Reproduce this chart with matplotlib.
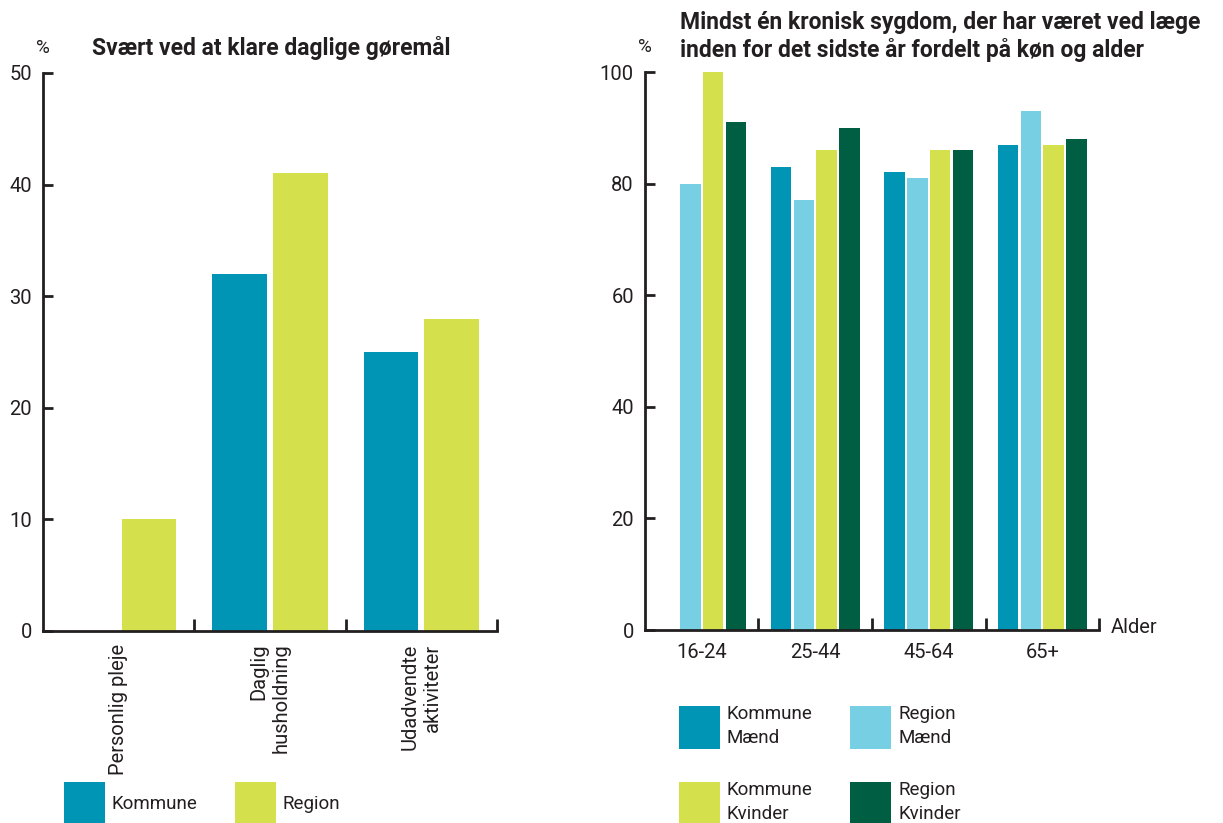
import matplotlib.pyplot as plt
import numpy as np

plt.rcParams['font.family'] = ['Roboto', 'DejaVu Sans']
plt.rcParams['text.color'] = '#231f20'
plt.rcParams['axes.edgecolor'] = '#231f20'
plt.rcParams['xtick.color'] = '#231f20'
plt.rcParams['ytick.color'] = '#231f20'

# Data: left chart
opgaver = ['Personlig pleje', 'Daglig\nhusholdning', 'Udadvendte\naktiviteter']
kommune = [0, 32, 25]
region = [10, 41, 28]

# Data: right chart
aldersgrupper = ['16-24', '25-44', '45-64', '65+']
kommune_maend = [0, 83, 82, 87]
region_maend = [80, 77, 81, 93]
kommune_kvinder = [100, 86, 86, 87]
region_kvinder = [91, 90, 86, 88]

teal = '#0094b5'
lys_blaa = '#76cfe3'
gul = '#d4e04c'
groen = '#005e42'
fs = 13.5      # legend text
fs_tick = 14.5
fs_title = 16.5

fig = plt.figure(figsize=(12.23, 8.23), dpi=100)
W, H = 1223, 823


def box(x0, y0, x1, y1):
    return [x0 / W, 1 - y1 / H, (x1 - x0) / W, (y1 - y0) / H]


def style(ax, n, ymax, step):
    for s in ['top', 'right']:
        ax.spines[s].set_visible(False)
    for s in ['left', 'bottom']:
        ax.spines[s].set_linewidth(2)
    ax.set_xlim(0, n)
    ax.set_ylim(0, ymax)
    ax.set_yticks(np.arange(0, ymax + 1, step))
    ax.set_xticks(np.arange(1, n + 1))
    ax.set_xticklabels([])
    ax.tick_params(axis='x', which='major', direction='in', length=9, width=2)
    ax.tick_params(axis='y', direction='in', length=7, width=2, pad=8, labelsize=fs_tick)
    ax.tick_params(axis='x', which='minor', length=0, labelsize=fs_tick, pad=9)


# Left chart
ax1 = fig.add_axes(box(43, 73, 497, 631))
x = np.arange(len(opgaver)) + 0.5
b1 = ax1.bar(x - 0.2, kommune, 0.36, color=teal)
b2 = ax1.bar(x + 0.2, region, 0.36, color=gul)
style(ax1, len(opgaver), 50, 10)
ax1.set_xticks(x, minor=True)
ax1.set_xticklabels(opgaver, minor=True, rotation=90, va='top', ha='center',
                    multialignment='right')
ax1.text(0, 1.045, '%', transform=ax1.transAxes, ha='center', va='center', fontsize=fs)
ax1.text(0.108, 1.045, 'Svært ved at klare daglige gøremål', transform=ax1.transAxes,
         ha='left', va='center', fontsize=fs_title, fontweight='bold')

fig.legend([b1, b2], ['Kommune', 'Region'], loc='upper left',
           bbox_to_anchor=(64 / W, 1 - 782 / H), ncol=2, frameon=False,
           fontsize=fs, handlelength=2.2, handleheight=3.2, handletextpad=0.35,
           columnspacing=2.0, borderpad=0, borderaxespad=0)

# Right chart
ax2 = fig.add_axes(box(645, 72, 1099, 630))
x2 = np.arange(len(aldersgrupper)) + 0.5
serier = [kommune_maend, region_maend, kommune_kvinder, region_kvinder]
farver = [teal, lys_blaa, gul, groen]
bars = []
for i, (v, c) in enumerate(zip(serier, farver)):
    bars.append(ax2.bar(x2 + (i - 1.5) * 0.2, v, 0.18, color=c))
style(ax2, len(aldersgrupper), 100, 20)
ax2.set_xticks(x2, minor=True)
ax2.set_xticklabels(aldersgrupper, minor=True)
ax2.text(1.025, 0.005, 'Alder', transform=ax2.transAxes, ha='left', va='center',
         fontsize=fs_tick)
ax2.text(0, 1.045, '%', transform=ax2.transAxes, ha='center', va='center', fontsize=fs)
ax2.text(0.077, 1.064, 'Mindst én kronisk sygdom, der har været ved læge\n'
         'inden for det sidste år fordelt på køn og alder', transform=ax2.transAxes,
         ha='left', va='center', fontsize=fs_title, fontweight='bold', linespacing=1.22)

leg = fig.legend([bars[0], bars[2], bars[1], bars[3]],
                 ['Kommune\nMænd', 'Kommune\nKvinder', 'Region\nMænd', 'Region\nKvinder'],
                 loc='upper left', bbox_to_anchor=(679 / W, 1 - 705 / H), ncol=2,
                 frameon=False, fontsize=fs, handlelength=2.2, handleheight=3.2,
                 handletextpad=0.35, columnspacing=2.0, labelspacing=1.7,
                 borderpad=0, borderaxespad=0)
for t in leg.get_texts():
    t.set_linespacing(1.4)

fig.savefig('out.png', dpi=100)
